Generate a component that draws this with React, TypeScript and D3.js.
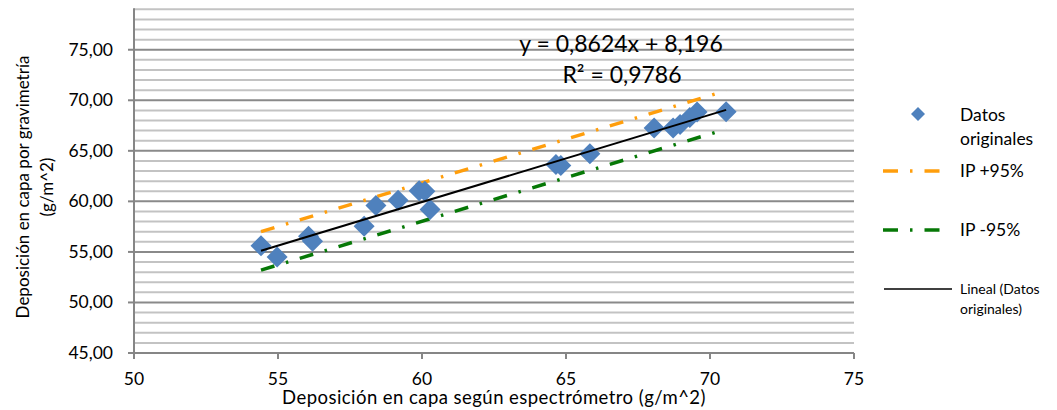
import React, { useEffect, useRef } from 'react';
import * as d3 from 'd3';

// valores
const datosX = [54.41, 54.97, 56.06, 56.2, 57.99, 58.4, 59.17, 59.9, 60.1, 60.28, 64.65, 64.82, 65.83, 68.06, 68.72, 68.96, 69.3, 69.55, 70.56];
const datosY = [55.6, 54.5, 56.55, 56.05, 57.55, 59.6, 60.1, 61.05, 61.0, 59.2, 63.65, 63.55, 64.7, 67.25, 67.25, 67.6, 68.3, 68.85, 68.87];

const ipMasX = [54.41, 70.56];
const ipMasY = [57.0, 70.95];
const ipMenosX = [54.41, 70.56];
const ipMenosY = [53.2, 67.15];

const pendiente = 0.8624;
const intercepto = 8.196;

const xTicks = [50, 55, 60, 65, 70, 75];
const yTicks = [45, 50, 55, 60, 65, 70, 75];

const FONT = 'Lato, "Open Sans", sans-serif';
const AZUL = '#4f81bd';
const NARANJA = '#ff9e0c';
const VERDE = '#067806';
const DASH = '14 12 2.5 12';

export default function App() {
  const ref = useRef<SVGSVGElement>(null);

  useEffect(() => {
    const svg = d3.select(ref.current);
    svg.selectAll('*').remove();

    const left = 134, right = 854, top = 9.3, bottom = 353;
    const x = d3.scaleLinear().domain([50, 75]).range([left, right]);
    const y = d3.scaleLinear().domain([45, 79]).range([bottom, top]);

    // lineas de cuadricula
    const grid = svg.append('g');
    d3.range(46, 80).forEach(v => {
      const major = v % 5 === 0;
      grid.append('line')
        .attr('x1', left).attr('x2', right)
        .attr('y1', y(v)).attr('y2', y(v))
        .attr('stroke', major ? '#8a8a8a' : '#c3c3c3')
        .attr('stroke-width', 2);
    });

    // ejes
    const axisColor = '#868686';
    svg.append('line').attr('x1', left).attr('x2', left).attr('y1', top - 1).attr('y2', bottom + 6)
      .attr('stroke', axisColor).attr('stroke-width', 2);
    svg.append('line').attr('x1', left - 6).attr('x2', right).attr('y1', bottom).attr('y2', bottom)
      .attr('stroke', axisColor).attr('stroke-width', 2);

    yTicks.forEach(v => {
      svg.append('line').attr('x1', left - 6).attr('x2', left).attr('y1', y(v)).attr('y2', y(v))
        .attr('stroke', axisColor).attr('stroke-width', 2);
      svg.append('text')
        .attr('x', 113).attr('y', y(v) + 6)
        .attr('text-anchor', 'end')
        .style('font-family', FONT).style('font-size', '17.5px').attr('fill', '#000')
        .text(v.toFixed(2).replace('.', ','));
    });

    xTicks.forEach(v => {
      svg.append('line').attr('x1', x(v)).attr('x2', x(v)).attr('y1', bottom).attr('y2', bottom + 6)
        .attr('stroke', axisColor).attr('stroke-width', 2);
      svg.append('text')
        .attr('x', x(v)).attr('y', 385)
        .attr('text-anchor', 'middle')
        .style('font-family', FONT).style('font-size', '17.5px')
        .text(v);
    });

    // titulos de ejes
    svg.append('text')
      .attr('x', 494).attr('y', 404)
      .attr('text-anchor', 'middle')
      .style('font-family', FONT).style('font-size', '18.5px')
      .style('letter-spacing', '0.45px')
      .text('Deposición en capa según espectrómetro (g/m^2)');

    const yt = svg.append('text')
      .attr('transform', 'translate(29, 187) rotate(-90)')
      .attr('text-anchor', 'middle')
      .style('font-family', FONT).style('font-size', '17px');
    yt.append('tspan').attr('x', 0).attr('y', 0).text('Deposición en capa por gravimetría');
    yt.append('tspan').attr('x', 0).attr('y', 24).text('(g/m^2)');

    const line = d3.line<[number, number]>().x(d => x(d[0])).y(d => y(d[1]));

    // intervalos de prediccion
    svg.append('path')
      .attr('d', line(ipMasX.map((v, i) => [v, ipMasY[i]] as [number, number])))
      .attr('fill', 'none').attr('stroke', NARANJA).attr('stroke-width', 3.5)
      .attr('stroke-dasharray', DASH);
    svg.append('path')
      .attr('d', line(ipMenosX.map((v, i) => [v, ipMenosY[i]] as [number, number])))
      .attr('fill', 'none').attr('stroke', VERDE).attr('stroke-width', 3.5)
      .attr('stroke-dasharray', DASH);

    // puntos
    const diamond = (cx: number, cy: number, r: number) =>
      `M${cx},${cy - r}L${cx + r},${cy}L${cx},${cy + r}L${cx - r},${cy}Z`;
    svg.append('g').selectAll('path')
      .data(datosX.map((v, i) => [v, datosY[i]]))
      .enter()
      .append('path')
      .attr('d', d => diamond(x(d[0]), y(d[1]), 10.5))
      .attr('fill', AZUL);

    // linea de tendencia
    const x0 = d3.min(datosX)!, x1 = d3.max(datosX)!;
    svg.append('path')
      .attr('d', line([[x0, pendiente * x0 + intercepto], [x1, pendiente * x1 + intercepto]]))
      .attr('fill', 'none').attr('stroke', '#000').attr('stroke-width', 2);

    // ecuacion
    svg.append('text')
      .attr('x', 621).attr('y', 52)
      .attr('text-anchor', 'middle')
      .style('font-family', FONT).style('font-size', '23px')
      .text('y = 0,8624x + 8,196');
    svg.append('text')
      .attr('x', 622).attr('y', 83)
      .attr('text-anchor', 'middle')
      .style('font-family', FONT).style('font-size', '23px')
      .text('R² = 0,9786');

    // leyenda
    const lg = svg.append('g').style('font-family', FONT);
    lg.append('path').attr('d', diamond(918, 114, 7)).attr('fill', AZUL);
    lg.append('text').attr('x', 960).attr('y', 121).style('font-size', '17.5px').text('Datos');
    lg.append('text').attr('x', 960).attr('y', 145).style('font-size', '17.5px').text('originales');

    lg.append('line').attr('x1', 883).attr('x2', 941).attr('y1', 171).attr('y2', 171)
      .attr('stroke', NARANJA).attr('stroke-width', 3.5).attr('stroke-dasharray', '15 12 2.5 12');
    lg.append('text').attr('x', 960).attr('y', 177).style('font-size', '17.5px').text('IP +95%');

    lg.append('line').attr('x1', 883).attr('x2', 941).attr('y1', 230).attr('y2', 230)
      .attr('stroke', VERDE).attr('stroke-width', 3.5).attr('stroke-dasharray', '15 12 2.5 12');
    lg.append('text').attr('x', 960).attr('y', 236).style('font-size', '17.5px').text('IP -95%');

    lg.append('line').attr('x1', 884).attr('x2', 952).attr('y1', 289).attr('y2', 289)
      .attr('stroke', '#000').attr('stroke-width', 1.5);
    lg.append('text').attr('x', 960).attr('y', 294).style('font-size', '14px').text('Lineal (Datos');
    lg.append('text').attr('x', 960).attr('y', 314).style('font-size', '14px').text('originales)');
  }, []);

  return (
    <svg
      ref={ref}
      width={1057}
      height={410}
      style={{ position: 'absolute', left: 0, top: 0, background: '#fff' }}
    />
  );
}
